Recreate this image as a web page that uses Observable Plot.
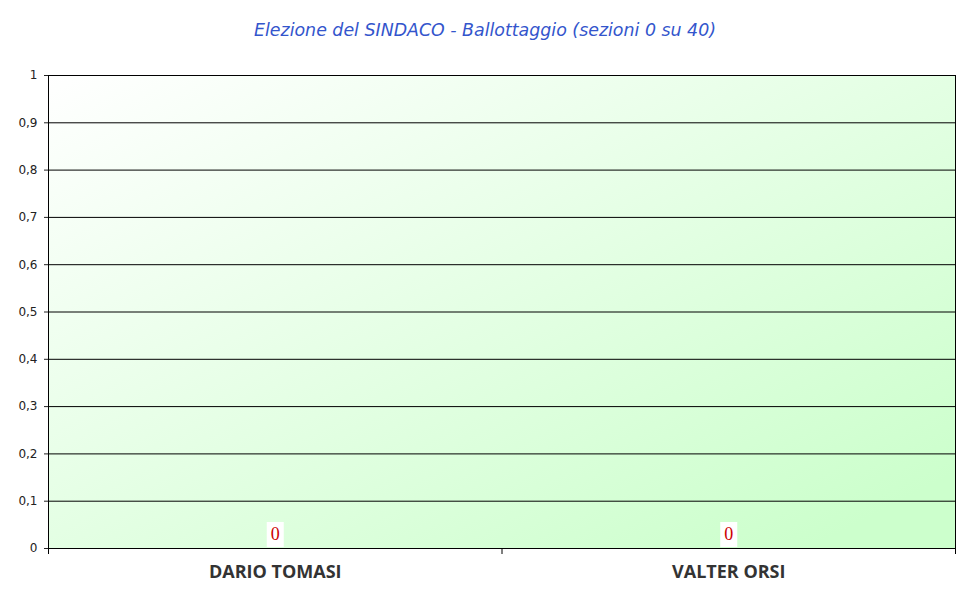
<!DOCTYPE html>
<html>
<head>
<meta charset="utf-8">
<script src="https://cdn.jsdelivr.net/npm/d3@7"></script>
<script src="https://cdn.jsdelivr.net/npm/@observablehq/plot@0.6"></script>
<style>
  html, body { margin: 0; padding: 0; background: #ffffff; }
  #title {
    width: 970px; height: 60px; display: flex; align-items: center; justify-content: center;
    font-family: "DejaVu Sans", Verdana, sans-serif; font-style: italic; font-size: 17.4px; color: #3355cc;
  }
  #chart svg { display: block; }
</style>
</head>
<body>
<div id="title"></div>
<div id="chart"></div>
<script>
const titleText = "Elezione del SINDACO - Ballottaggio (sezioni 0 su 40)";
const candidates = ["DARIO TOMASI", "VALTER ORSI"];
const votes = [0, 0];
const yTicks = [0, 0.1, 0.2, 0.3, 0.4, 0.5, 0.6, 0.7, 0.8, 0.9, 1];
const yTickLabels = ["0", "0,1", "0,2", "0,3", "0,4", "0,5", "0,6", "0,7", "0,8", "0,9", "1"];

document.getElementById("title").textContent = titleText;

const rows = candidates.map((name, i) => ({name, value: votes[i], pos: i + 0.5}));
const bounds = d3.range(candidates.length + 1);
const edges = [0, candidates.length];

const boxSymbol = {draw(ctx) { ctx.rect(-8.5, -12.5, 17, 25); }};

const chart = Plot.plot({
  width: 970,
  height: 544,
  marginTop: 15,
  marginBottom: 56,
  marginLeft: 48,
  marginRight: 15,
  style: {fontFamily: "DejaVu Sans, Verdana, sans-serif", fontSize: "12px", color: "#222", background: "transparent"},
  x: {domain: [0, candidates.length], axis: null},
  y: {
    domain: [0, 1],
    ticks: yTicks,
    tickFormat: d => yTickLabels[yTicks.findIndex(t => Math.abs(t - d) < 1e-9)],
    tickSize: 4,
    tickPadding: 7,
    label: null
  },
  marks: [
    Plot.frame({fill: "url(#bggrad)", stroke: "none"}),
    Plot.ruleY(yTicks, {stroke: "#000", strokeWidth: 1}),
    Plot.ruleX(edges, {y1: 0, y2: 1, stroke: "#000"}),
    Plot.ruleX(bounds, {y1: 0, y2: 0, insetBottom: -6, stroke: "#000"}),
    Plot.dot(rows, {x: "pos", y: "value", dy: -14, symbol: boxSymbol, r: 5, fill: "#ffffff", stroke: "none"}),
    Plot.text(rows, {x: "pos", y: "value", dy: -14, text: d => String(d.value), fill: "#cc0000",
      fontFamily: "Liberation Serif, serif", fontSize: 18}),
    Plot.text(rows, {x: "pos", y: 0, dy: 24, text: "name", fill: "#333333",
      fontFamily: "Open Sans, sans-serif", fontWeight: "bold", fontSize: 18, lineAnchor: "middle"})
  ]
});

const svg = d3.select(chart);
const grad = svg.insert("defs", ":first-child").append("linearGradient")
  .attr("id", "bggrad").attr("x1", "0").attr("y1", "0").attr("x2", "1").attr("y2", "1");
grad.append("stop").attr("offset", "0%").attr("stop-color", "#ffffff");
grad.append("stop").attr("offset", "92%").attr("stop-color", "#ccffcc");

document.getElementById("chart").appendChild(chart);
</script>
</body>
</html>
